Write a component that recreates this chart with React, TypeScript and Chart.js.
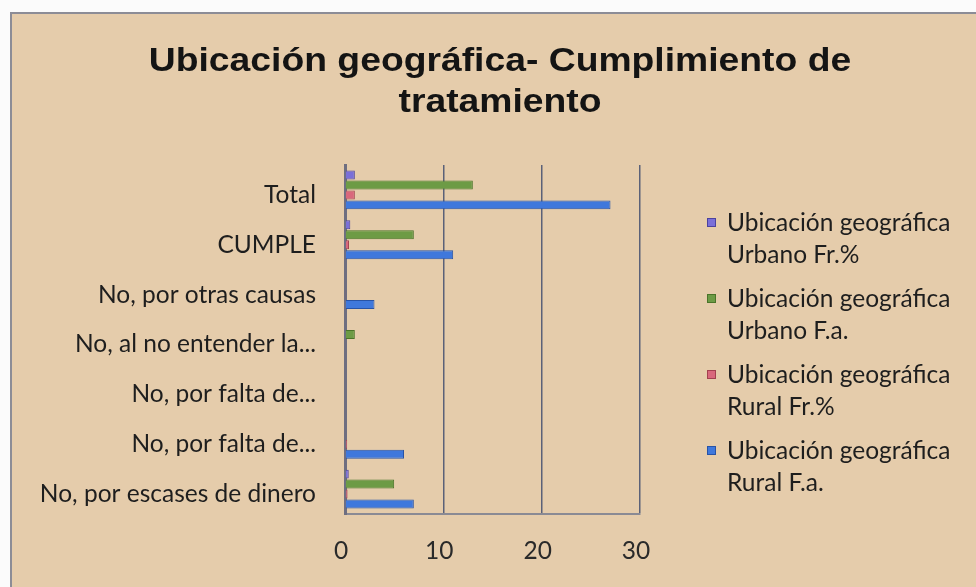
import React, { useEffect, useRef } from "react";
import { Chart, registerables } from "chart.js";

Chart.register(...registerables);

const titleLines = ["Ubicación geográfica- Cumplimiento de", "tratamiento"];
const categories = [
  "Total",
  "CUMPLE",
  "No, por otras causas",
  "No, al no entender la...",
  "No, por falta de...",
  "No, por falta de...",
  "No, por escases de dinero",
];
const urbanoFrPct = [1, 0.54, 0, 0.08, 0, 0, 0.38];
const urbanoFa = [13, 7, 0, 1, 0, 0, 5];
const ruralFrPct = [1, 0.41, 0.11, 0, 0, 0.22, 0.26];
const ruralFa = [27, 11, 3, 0, 0, 6, 7];
const xMin = 0;
const xMax = 30;
const xStep = 10;
const seriesNames = [
  ["Ubicación geográfica", "Urbano Fr.%"],
  ["Ubicación geográfica", "Urbano F.a."],
  ["Ubicación geográfica", "Rural Fr.%"],
  ["Ubicación geográfica", "Rural F.a."],
];

const LABEL_FONT = "Lato, 'Open Sans', sans-serif";
const LABEL_SIZE = 24.5;

const backgroundPlugin = {
  id: "paperBackground",
  beforeDraw(chart: any) {
    const { ctx, width, height } = chart;
    ctx.save();
    ctx.fillStyle = "#fbfbfb";
    ctx.fillRect(0, 0, width, height);
    ctx.fillStyle = "#e5ccab";
    ctx.fillRect(11, 13, width - 11, height - 13);
    ctx.strokeStyle = "#8c8c96";
    ctx.lineWidth = 2;
    ctx.beginPath();
    ctx.moveTo(11, height);
    ctx.lineTo(11, 13);
    ctx.lineTo(width, 13);
    ctx.stroke();
    ctx.restore();
  },
};

const titlePlugin = {
  id: "stretchedTitle",
  afterDraw(chart: any) {
    const { ctx } = chart;
    ctx.save();
    ctx.font = "bold 33px 'Liberation Sans', Arial, sans-serif";
    ctx.fillStyle = "#141414";
    ctx.textAlign = "center";
    ctx.textBaseline = "alphabetic";
    titleLines.forEach((t, i) => {
      ctx.save();
      ctx.translate(500, 71 + i * 41);
      ctx.scale(1.13, 1);
      ctx.fillText(t, 0, 0);
      ctx.restore();
    });
    ctx.restore();
  },
};

const legendPlugin = {
  id: "wrappedLegend",
  afterDraw(chart: any) {
    const { ctx } = chart;
    ctx.save();
    ctx.font = `${LABEL_SIZE}px ${LABEL_FONT}`;
    ctx.textBaseline = "middle";
    ctx.textAlign = "left";
    chart.data.datasets.forEach((ds: any, i: number) => {
      const y0 = 223 + i * 76;
      ctx.fillStyle = ds.backgroundColor;
      ctx.strokeStyle = ds.borderColor;
      ctx.lineWidth = 1;
      ctx.fillRect(707, y0 - 5, 9, 9);
      ctx.strokeRect(707.5, y0 - 4.5, 8, 8);
      ctx.fillStyle = "#1e1e1e";
      const lines: string[] = ds.legendLines;
      lines.forEach((t, j) => ctx.fillText(t, 727, y0 + j * 32));
    });
    ctx.restore();
  },
};

export default function App() {
  const ref = useRef<HTMLCanvasElement>(null);
  useEffect(() => {
    const colors = [
      { bg: "#7a6fd8", bd: "#4b429e" },
      { bg: "#6d9b45", bd: "#4a7429" },
      { bg: "#d9687c", bd: "#a3414f" },
      { bg: "#3f78dc", bd: "#2853a6" },
    ];
    const seriesData = [urbanoFrPct, urbanoFa, ruralFrPct, ruralFa];
    const chart = new Chart(ref.current as HTMLCanvasElement, {
      type: "bar",
      data: {
        labels: categories,
        datasets: seriesData.map((d, i) => ({
          label: seriesNames[i].join(" "),
          legendLines: seriesNames[i],
          data: d,
          backgroundColor: colors[i].bg,
          borderColor: colors[i].bd,
          borderWidth: 1,
          categoryPercentage: 0.8,
          barPercentage: 0.9,
        })) as any,
      },
      options: {
        indexAxis: "y",
        responsive: false,
        animation: false,
        devicePixelRatio: 1,
        layout: { padding: { left: 30, right: 6, top: 165, bottom: 0 } },
        plugins: {
          legend: { display: false },
          tooltip: { enabled: false },
          title: { display: false },
        },
        scales: {
          x: {
            type: "linear",
            min: xMin,
            max: xMax,
            ticks: {
              stepSize: xStep,
              padding: 22,
              labelOffset: -4,
              color: "#2a2a2a",
              font: { family: LABEL_FONT, size: LABEL_SIZE },
            },
            grid: { color: "#5b6178", lineWidth: 1.5, drawTicks: false },
            border: { display: true, color: "#8a8a94", width: 2 },
            afterFit: (s: any) => {
              s.height = 73;
            },
          },
          y: {
            type: "category",
            ticks: {
              padding: 29,
              labelOffset: 5,
              color: "#1e1e1e",
              font: { family: LABEL_FONT, size: LABEL_SIZE },
            },
            grid: { display: false, drawTicks: false },
            border: { display: true, color: "#6e6e80", width: 3 },
            afterFit: (s: any) => {
              s.width = 315;
            },
          },
          ySpacer: {
            type: "linear",
            position: "right",
            display: true,
            grid: { display: false, drawTicks: false },
            ticks: { display: false },
            border: { display: false },
            afterFit: (s: any) => {
              s.width = 330;
            },
          },
        },
      } as any,
      plugins: [backgroundPlugin, titlePlugin, legendPlugin],
    });
    return () => chart.destroy();
  }, []);
  return (
    <div style={{ position: "fixed", left: 0, top: 0, width: 976, height: 587 }}>
      <canvas ref={ref} width={976} height={587} style={{ display: "block", width: 976, height: 587 }} />
    </div>
  );
}
